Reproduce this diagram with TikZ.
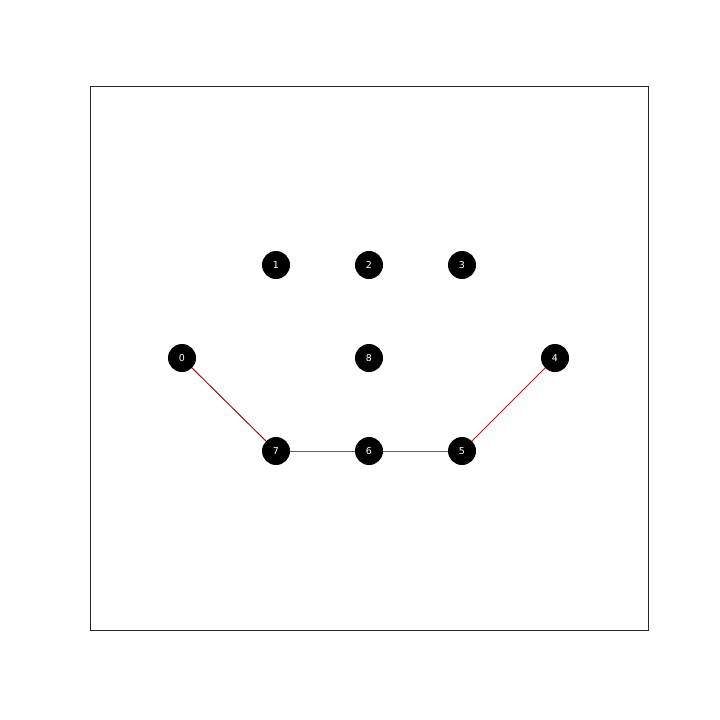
\documentclass[tikz,border=0pt]{standalone}
\usepackage{fontspec}
\newfontfamily\labelfont{DejaVu Sans}
\definecolor{edgedark}{HTML}{A01010}
\definecolor{edgered}{HTML}{E01010}
\definecolor{edgegray}{HTML}{6E5A5A}
\tikzset{
  vert/.style={circle, fill=black, draw=none, minimum size=28pt, inner sep=0pt,
    text=white, font=\labelfont\fontsize{9.5}{10}\selectfont},
  link/.style={line width=1pt}
}

\begin{document}
\begin{tikzpicture}[x=1pt, y=-1pt]
  \useasboundingbox[fill=white] (0,0) rectangle (720,720);
  % axes frame
  \draw[line width=0.8pt, black!85] (90,86) rectangle (648,630);
  % vertices
  \foreach \n/\x/\y in {0/182/358, 1/276/265, 2/369/265, 3/462/265, 4/555/358,
                        5/462/451, 6/369/451, 7/276/451, 8/369/358}{
    \node[vert] (v\n) at (\x,\y) {\n};
  }
  % edges
  \draw[link, edgedark] (v0) -- (v7);
  \draw[link, edgegray] (v7) -- (v6);
  \draw[link, edgegray] (v6) -- (v5);
  \draw[link, edgered] (v5) -- (v4);
\end{tikzpicture}
\end{document}
